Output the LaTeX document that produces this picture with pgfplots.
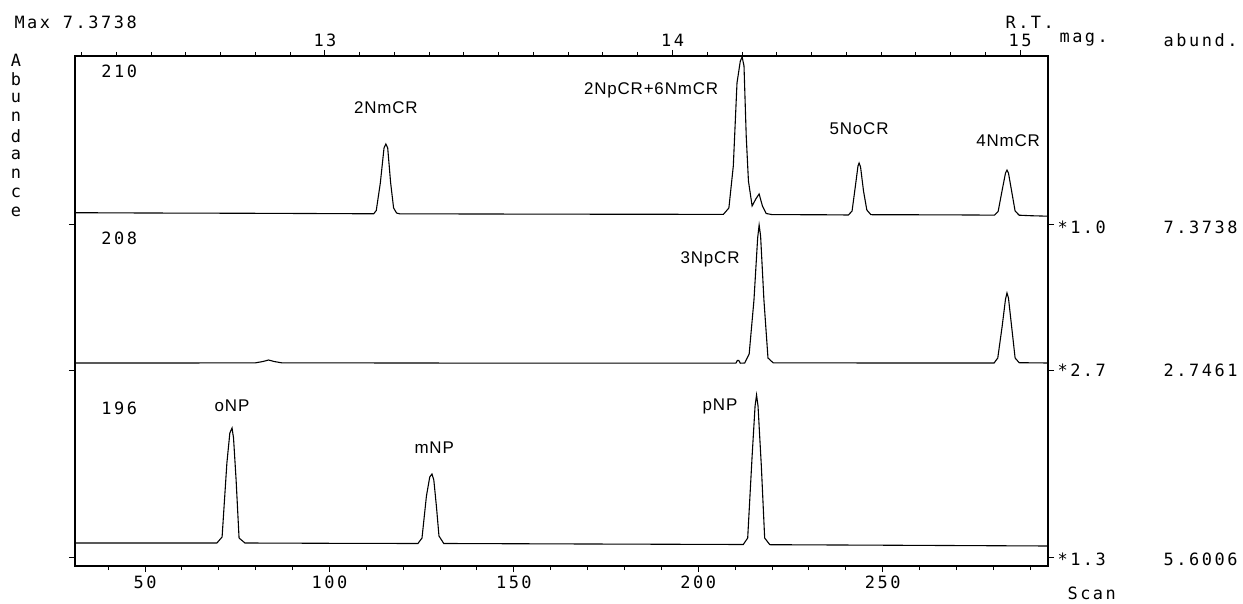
\documentclass[border=0pt]{standalone}
\usepackage{pgfplots}
\pgfplotsset{compat=1.18}
\usepackage{fontspec}
\newfontfamily\plotter[LetterSpace=15]{DejaVu Sans Mono}
\newfontfamily\labfont[LetterSpace=5]{Liberation Sans}
\newcommand\pf{\plotter\fontsize{17}{19}\selectfont}
\newcommand\lf{\labfont\fontsize{17}{19}\selectfont}
\pgfplotsset{
  chrom/.style={
    at={(75bp,38bp)}, anchor=south west,
    scale only axis, width=973bp, height=510bp,
    tick align=outside,
    major tick length=6bp, minor tick length=4bp,
    every tick/.style={black, line width=1pt},
    axis line style={line width=1.1pt},
    ticklabel style={font=\pf},
    /pgf/number format/assume math mode=true,
    clip=false,
  }
}
\begin{document}
\begin{tikzpicture}
\path[use as bounding box] (0,0) rectangle (1243bp,604bp);
% main axis: scan number, stacked ion traces (y in display units)
\begin{axis}[chrom,
  xmin=31.02, xmax=294.82, ymin=0, ymax=510,
  xtick={50,100,150,200,250},
  minor xtick={40,50,...,290},
  xtick pos=left,
  ytick={9,196,342},
  yticklabels={\empty,\empty,\empty},
]
% m/z 210
\addplot[black, line width=1.1pt] coordinates {
(31.02,353.3) (50,353) (80,352.7) (100,352.4) (112.0,352.2) (112.7,355.5) (113.8,383) (114.8,418) (115.3,422) (115.8,418) (116.6,383) (117.4,358) (118.2,353) (119,352.2)
(140,352) (170,351.8) (195,351.7) (206.8,351.6) (208.3,358) (209.5,400) (210.5,483) (211.4,505) (211.9,509) (212.4,500) (213.0,430) (213.6,385) (214.6,360) (215.6,367) (216.5,372) (217.4,360) (218.4,352.5) (220,351.4)
(235,351.2) (240.7,351) (241.7,355) (242.6,380) (243.3,400) (243.6,403) (244.0,399) (244.8,375) (245.7,356) (246.8,351.3)
(260,351.2) (275,351) (280.3,350.8) (281.3,354.5) (282.4,376) (283.3,393) (283.7,396) (284.1,393) (285.0,374) (285.9,355) (287.0,350.8) (290,350.3) (294.82,349.8)
};
% m/z 208
\addplot[black, line width=1.1pt] coordinates {
(31.02,203) (60,203) (80,203.2) (82,204.5) (83.5,206) (85,204.5) (87,203.2) (120,203) (160,202.8) (200,202.8)
(210.2,202.8) (210.6,205.5) (211.0,205.5) (211.4,202.8) (212.6,203) (213.8,212) (215.1,266) (216.1,328) (216.5,341) (216.9,330) (217.8,266) (218.9,208) (220.3,203.2)
(250,203) (280.2,203) (281.2,208) (282.4,240) (283.3,267) (283.7,273) (284.1,268) (285.0,238) (285.9,208) (287.0,203.3) (294.82,203)
};
% m/z 196
\addplot[black, line width=1.1pt] coordinates {
(31.02,23) (60,23) (69.5,23) (70.9,29) (72.2,103) (73.0,133) (73.6,138) (74.0,128) (74.7,86) (75.5,28) (77.1,23)
(100,22.7) (124.0,22.5) (125.1,28) (126.3,70) (127.2,89) (127.8,92) (128.3,86) (129.0,60) (129.7,30) (131.0,22.5)
(170,22) (212.2,21.5) (213.4,28) (214.6,110) (215.4,160) (215.8,171) (216.2,160) (217.1,100) (218.0,28) (219.4,21.3)
(250,20.8) (294.82,20)
};
% trace names
\node[font=\pf, anchor=west] at (axis cs:37.2,495) {210};
\node[font=\pf, anchor=west] at (axis cs:37.2,328) {208};
\node[font=\pf, anchor=west] at (axis cs:37.2,158) {196};
% peak labels
\node[font=\lf] at (axis cs:115.3,458) {2NmCR};
\node[font=\lf] at (axis cs:187.2,476) {2NpCR+6NmCR};
\node[font=\lf] at (axis cs:243.6,437) {5NoCR};
\node[font=\lf] at (axis cs:284.0,425) {4NmCR};
\node[font=\lf] at (axis cs:203.2,307) {3NpCR};
\node[font=\lf] at (axis cs:73.6,160) {oNP};
\node[font=\lf] at (axis cs:128.4,118) {mNP};
\node[font=\lf] at (axis cs:205.9,160) {pNP};
\end{axis}
% top axis: retention time (min)
\begin{axis}[chrom,
  xmin=12.2806, xmax=15.0806, ymin=0, ymax=1,
  axis x line*=top, axis y line=none,
  xtick={13,14,15},
  minor xtick={12.3,12.4,...,15.05},
]
\addplot[draw=none] coordinates {(13,0.5)};
\end{axis}
% surrounding texts
\node[font=\pf, anchor=west] at (11bp,582bp) {Max 7.3738};
\node[font=\pf, anchor=west] at (1002bp,582bp) {R.T.};
\node[font=\pf, anchor=west] at (1056bp,564bp) {mag.};
\node[font=\pf, anchor=east] at (1241bp,564bp) {abund.};
\node[font=\pf, anchor=west] at (1054bp,377bp) {*1.0};
\node[font=\pf, anchor=east] at (1241bp,377bp) {7.3738};
\node[font=\pf, anchor=west] at (1054bp,234bp) {*2.7};
\node[font=\pf, anchor=east] at (1241bp,234bp) {2.7461};
\node[font=\pf, anchor=west] at (1054bp,45bp) {*1.3};
\node[font=\pf, anchor=east] at (1241bp,45bp) {5.6006};
\node[font=\pf, anchor=west] at (1064bp,11bp) {Scan};
\foreach \c [count=\i] in {A,b,u,n,d,a,n,c,e}{
  \pgfmathsetmacro\yy{544-(\i-1)*19}
  \node[font=\pf] at (16bp,\yy bp) {\c};
}
\end{tikzpicture}
\end{document}
